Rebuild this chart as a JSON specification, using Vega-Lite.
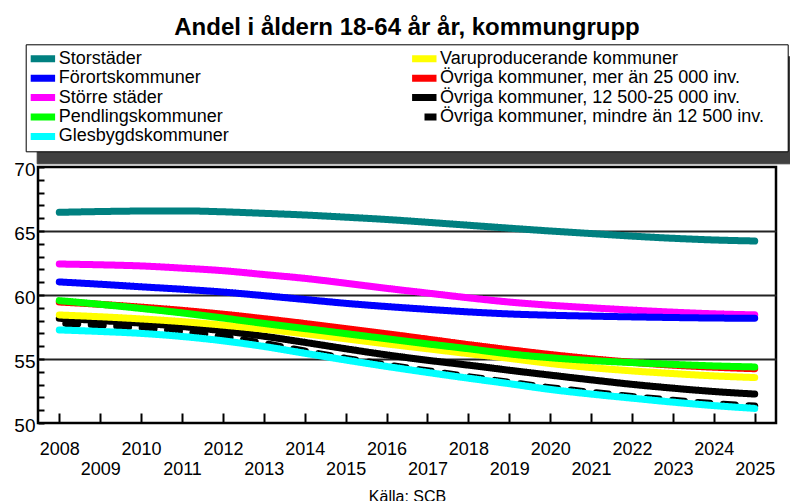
{
  "$schema": "https://vega.github.io/schema/vega-lite/v6.json",
  "width": 738,
  "height": 256,
  "autosize": {"type": "none"},
  "padding": {"left": 38, "top": 167, "right": 14, "bottom": 78},
  "background": "white",
  "config": {
    "font": "Liberation Sans",
    "view": {"stroke": "black", "strokeWidth": 2.5}
  },
  "title": {
    "text": "Andel i åldern 18-64 år år, kommungrupp",
    "fontSize": 24,
    "fontWeight": "bold",
    "anchor": "middle",
    "color": "black",
    "offset": 4
  },
  "datasets": {
    "shadow": [
      {"s": "Förortskommuner"}, {"s": "Storstäder"}, {"s": "Större städer"},
      {"s": "Pendlingskommuner"}, {"s": "Glesbygdskommuner"},
      {"s": "Övriga kommuner, mer än 25 000 inv."}, {"s": "Varuproducerande kommuner"},
      {"s": "Övriga kommuner, 12 500-25 000 inv."}, {"s": "Övriga kommuner, mindre än 12 500 inv."}
    ],
    "main": [
      {"group": "Övriga kommuner, mindre än 12 500 inv.", "year": 2008, "value": 57.8},
      {"group": "Övriga kommuner, mindre än 12 500 inv.", "year": 2009, "value": 57.65},
      {"group": "Övriga kommuner, mindre än 12 500 inv.", "year": 2010, "value": 57.45},
      {"group": "Övriga kommuner, mindre än 12 500 inv.", "year": 2011, "value": 57.15},
      {"group": "Övriga kommuner, mindre än 12 500 inv.", "year": 2012, "value": 56.75},
      {"group": "Övriga kommuner, mindre än 12 500 inv.", "year": 2013, "value": 56.22},
      {"group": "Övriga kommuner, mindre än 12 500 inv.", "year": 2014, "value": 55.62},
      {"group": "Övriga kommuner, mindre än 12 500 inv.", "year": 2015, "value": 55.05},
      {"group": "Övriga kommuner, mindre än 12 500 inv.", "year": 2016, "value": 54.55},
      {"group": "Övriga kommuner, mindre än 12 500 inv.", "year": 2017, "value": 54.08},
      {"group": "Övriga kommuner, mindre än 12 500 inv.", "year": 2018, "value": 53.62},
      {"group": "Övriga kommuner, mindre än 12 500 inv.", "year": 2019, "value": 53.18},
      {"group": "Övriga kommuner, mindre än 12 500 inv.", "year": 2020, "value": 52.76},
      {"group": "Övriga kommuner, mindre än 12 500 inv.", "year": 2021, "value": 52.4},
      {"group": "Övriga kommuner, mindre än 12 500 inv.", "year": 2022, "value": 52.07},
      {"group": "Övriga kommuner, mindre än 12 500 inv.", "year": 2023, "value": 51.77},
      {"group": "Övriga kommuner, mindre än 12 500 inv.", "year": 2024, "value": 51.52},
      {"group": "Övriga kommuner, mindre än 12 500 inv.", "year": 2025, "value": 51.33},
      {"group": "Övriga kommuner, 12 500-25 000 inv.", "year": 2008, "value": 58.18},
      {"group": "Övriga kommuner, 12 500-25 000 inv.", "year": 2009, "value": 58.0},
      {"group": "Övriga kommuner, 12 500-25 000 inv.", "year": 2010, "value": 57.8},
      {"group": "Övriga kommuner, 12 500-25 000 inv.", "year": 2011, "value": 57.54},
      {"group": "Övriga kommuner, 12 500-25 000 inv.", "year": 2012, "value": 57.2},
      {"group": "Övriga kommuner, 12 500-25 000 inv.", "year": 2013, "value": 56.78},
      {"group": "Övriga kommuner, 12 500-25 000 inv.", "year": 2014, "value": 56.3},
      {"group": "Övriga kommuner, 12 500-25 000 inv.", "year": 2015, "value": 55.8},
      {"group": "Övriga kommuner, 12 500-25 000 inv.", "year": 2016, "value": 55.32},
      {"group": "Övriga kommuner, 12 500-25 000 inv.", "year": 2017, "value": 54.9},
      {"group": "Övriga kommuner, 12 500-25 000 inv.", "year": 2018, "value": 54.52},
      {"group": "Övriga kommuner, 12 500-25 000 inv.", "year": 2019, "value": 54.12},
      {"group": "Övriga kommuner, 12 500-25 000 inv.", "year": 2020, "value": 53.74},
      {"group": "Övriga kommuner, 12 500-25 000 inv.", "year": 2021, "value": 53.37},
      {"group": "Övriga kommuner, 12 500-25 000 inv.", "year": 2022, "value": 53.02},
      {"group": "Övriga kommuner, 12 500-25 000 inv.", "year": 2023, "value": 52.72},
      {"group": "Övriga kommuner, 12 500-25 000 inv.", "year": 2024, "value": 52.46},
      {"group": "Övriga kommuner, 12 500-25 000 inv.", "year": 2025, "value": 52.26},
      {"group": "Övriga kommuner, mer än 25 000 inv.", "year": 2008, "value": 59.45},
      {"group": "Övriga kommuner, mer än 25 000 inv.", "year": 2009, "value": 59.27},
      {"group": "Övriga kommuner, mer än 25 000 inv.", "year": 2010, "value": 59.05},
      {"group": "Övriga kommuner, mer än 25 000 inv.", "year": 2011, "value": 58.8},
      {"group": "Övriga kommuner, mer än 25 000 inv.", "year": 2012, "value": 58.5},
      {"group": "Övriga kommuner, mer än 25 000 inv.", "year": 2013, "value": 58.15},
      {"group": "Övriga kommuner, mer än 25 000 inv.", "year": 2014, "value": 57.77},
      {"group": "Övriga kommuner, mer än 25 000 inv.", "year": 2015, "value": 57.37},
      {"group": "Övriga kommuner, mer än 25 000 inv.", "year": 2016, "value": 56.97},
      {"group": "Övriga kommuner, mer än 25 000 inv.", "year": 2017, "value": 56.55},
      {"group": "Övriga kommuner, mer än 25 000 inv.", "year": 2018, "value": 56.12},
      {"group": "Övriga kommuner, mer än 25 000 inv.", "year": 2019, "value": 55.72},
      {"group": "Övriga kommuner, mer än 25 000 inv.", "year": 2020, "value": 55.35},
      {"group": "Övriga kommuner, mer än 25 000 inv.", "year": 2021, "value": 55.02},
      {"group": "Övriga kommuner, mer än 25 000 inv.", "year": 2022, "value": 54.74},
      {"group": "Övriga kommuner, mer än 25 000 inv.", "year": 2023, "value": 54.52},
      {"group": "Övriga kommuner, mer än 25 000 inv.", "year": 2024, "value": 54.36},
      {"group": "Övriga kommuner, mer än 25 000 inv.", "year": 2025, "value": 54.24},
      {"group": "Varuproducerande kommuner", "year": 2008, "value": 58.44},
      {"group": "Varuproducerande kommuner", "year": 2009, "value": 58.3},
      {"group": "Varuproducerande kommuner", "year": 2010, "value": 58.13},
      {"group": "Varuproducerande kommuner", "year": 2011, "value": 57.92},
      {"group": "Varuproducerande kommuner", "year": 2012, "value": 57.65},
      {"group": "Varuproducerande kommuner", "year": 2013, "value": 57.33},
      {"group": "Varuproducerande kommuner", "year": 2014, "value": 56.97},
      {"group": "Varuproducerande kommuner", "year": 2015, "value": 56.58},
      {"group": "Varuproducerande kommuner", "year": 2016, "value": 56.18},
      {"group": "Varuproducerande kommuner", "year": 2017, "value": 55.8},
      {"group": "Varuproducerande kommuner", "year": 2018, "value": 55.42},
      {"group": "Varuproducerande kommuner", "year": 2019, "value": 55.05},
      {"group": "Varuproducerande kommuner", "year": 2020, "value": 54.65},
      {"group": "Varuproducerande kommuner", "year": 2021, "value": 54.33},
      {"group": "Varuproducerande kommuner", "year": 2022, "value": 54.07},
      {"group": "Varuproducerande kommuner", "year": 2023, "value": 53.86},
      {"group": "Varuproducerande kommuner", "year": 2024, "value": 53.68},
      {"group": "Varuproducerande kommuner", "year": 2025, "value": 53.55},
      {"group": "Glesbygdskommuner", "year": 2008, "value": 57.27},
      {"group": "Glesbygdskommuner", "year": 2009, "value": 57.15},
      {"group": "Glesbygdskommuner", "year": 2010, "value": 57.0},
      {"group": "Glesbygdskommuner", "year": 2011, "value": 56.76},
      {"group": "Glesbygdskommuner", "year": 2012, "value": 56.42},
      {"group": "Glesbygdskommuner", "year": 2013, "value": 55.98},
      {"group": "Glesbygdskommuner", "year": 2014, "value": 55.45},
      {"group": "Glesbygdskommuner", "year": 2015, "value": 54.92},
      {"group": "Glesbygdskommuner", "year": 2016, "value": 54.42},
      {"group": "Glesbygdskommuner", "year": 2017, "value": 53.95},
      {"group": "Glesbygdskommuner", "year": 2018, "value": 53.5},
      {"group": "Glesbygdskommuner", "year": 2019, "value": 53.07},
      {"group": "Glesbygdskommuner", "year": 2020, "value": 52.62},
      {"group": "Glesbygdskommuner", "year": 2021, "value": 52.26},
      {"group": "Glesbygdskommuner", "year": 2022, "value": 51.94},
      {"group": "Glesbygdskommuner", "year": 2023, "value": 51.63},
      {"group": "Glesbygdskommuner", "year": 2024, "value": 51.36},
      {"group": "Glesbygdskommuner", "year": 2025, "value": 51.14},
      {"group": "Pendlingskommuner", "year": 2008, "value": 59.56},
      {"group": "Pendlingskommuner", "year": 2009, "value": 59.27},
      {"group": "Pendlingskommuner", "year": 2010, "value": 58.95},
      {"group": "Pendlingskommuner", "year": 2011, "value": 58.6},
      {"group": "Pendlingskommuner", "year": 2012, "value": 58.2},
      {"group": "Pendlingskommuner", "year": 2013, "value": 57.78},
      {"group": "Pendlingskommuner", "year": 2014, "value": 57.38},
      {"group": "Pendlingskommuner", "year": 2015, "value": 56.98},
      {"group": "Pendlingskommuner", "year": 2016, "value": 56.58},
      {"group": "Pendlingskommuner", "year": 2017, "value": 56.18},
      {"group": "Pendlingskommuner", "year": 2018, "value": 55.8},
      {"group": "Pendlingskommuner", "year": 2019, "value": 55.4},
      {"group": "Pendlingskommuner", "year": 2020, "value": 55.1},
      {"group": "Pendlingskommuner", "year": 2021, "value": 54.88},
      {"group": "Pendlingskommuner", "year": 2022, "value": 54.72},
      {"group": "Pendlingskommuner", "year": 2023, "value": 54.58},
      {"group": "Pendlingskommuner", "year": 2024, "value": 54.46},
      {"group": "Pendlingskommuner", "year": 2025, "value": 54.38},
      {"group": "Större städer", "year": 2008, "value": 62.42},
      {"group": "Större städer", "year": 2009, "value": 62.36},
      {"group": "Större städer", "year": 2010, "value": 62.27},
      {"group": "Större städer", "year": 2011, "value": 62.1},
      {"group": "Större städer", "year": 2012, "value": 61.9},
      {"group": "Större städer", "year": 2013, "value": 61.6},
      {"group": "Större städer", "year": 2014, "value": 61.3},
      {"group": "Större städer", "year": 2015, "value": 60.92},
      {"group": "Större städer", "year": 2016, "value": 60.52},
      {"group": "Större städer", "year": 2017, "value": 60.15},
      {"group": "Större städer", "year": 2018, "value": 59.78},
      {"group": "Större städer", "year": 2019, "value": 59.45},
      {"group": "Större städer", "year": 2020, "value": 59.2},
      {"group": "Större städer", "year": 2021, "value": 59.0},
      {"group": "Större städer", "year": 2022, "value": 58.82},
      {"group": "Större städer", "year": 2023, "value": 58.66},
      {"group": "Större städer", "year": 2024, "value": 58.53},
      {"group": "Större städer", "year": 2025, "value": 58.45},
      {"group": "Förortskommuner", "year": 2008, "value": 61.02},
      {"group": "Förortskommuner", "year": 2009, "value": 60.84},
      {"group": "Förortskommuner", "year": 2010, "value": 60.64},
      {"group": "Förortskommuner", "year": 2011, "value": 60.45},
      {"group": "Förortskommuner", "year": 2012, "value": 60.23},
      {"group": "Förortskommuner", "year": 2013, "value": 59.95},
      {"group": "Förortskommuner", "year": 2014, "value": 59.65},
      {"group": "Förortskommuner", "year": 2015, "value": 59.35},
      {"group": "Förortskommuner", "year": 2016, "value": 59.1},
      {"group": "Förortskommuner", "year": 2017, "value": 58.88},
      {"group": "Förortskommuner", "year": 2018, "value": 58.68},
      {"group": "Förortskommuner", "year": 2019, "value": 58.52},
      {"group": "Förortskommuner", "year": 2020, "value": 58.42},
      {"group": "Förortskommuner", "year": 2021, "value": 58.35},
      {"group": "Förortskommuner", "year": 2022, "value": 58.29},
      {"group": "Förortskommuner", "year": 2023, "value": 58.24},
      {"group": "Förortskommuner", "year": 2024, "value": 58.2},
      {"group": "Förortskommuner", "year": 2025, "value": 58.18},
      {"group": "Storstäder", "year": 2008, "value": 66.46},
      {"group": "Storstäder", "year": 2009, "value": 66.52},
      {"group": "Storstäder", "year": 2010, "value": 66.56},
      {"group": "Storstäder", "year": 2011, "value": 66.57},
      {"group": "Storstäder", "year": 2012, "value": 66.5},
      {"group": "Storstäder", "year": 2013, "value": 66.38},
      {"group": "Storstäder", "year": 2014, "value": 66.25},
      {"group": "Storstäder", "year": 2015, "value": 66.08},
      {"group": "Storstäder", "year": 2016, "value": 65.9},
      {"group": "Storstäder", "year": 2017, "value": 65.68},
      {"group": "Storstäder", "year": 2018, "value": 65.45},
      {"group": "Storstäder", "year": 2019, "value": 65.22},
      {"group": "Storstäder", "year": 2020, "value": 65.0},
      {"group": "Storstäder", "year": 2021, "value": 64.8},
      {"group": "Storstäder", "year": 2022, "value": 64.6},
      {"group": "Storstäder", "year": 2023, "value": 64.43},
      {"group": "Storstäder", "year": 2024, "value": 64.3},
      {"group": "Storstäder", "year": 2025, "value": 64.22}
    ]
  },
  "layer": [
    {
      "data": {"name": "shadow"},
      "mark": {"type": "point", "opacity": 0},
      "encoding": {
        "shape": {
          "field": "s",
          "type": "nominal",
          "scale": {
            "domain": ["Förortskommuner", "Storstäder", "Större städer", "Pendlingskommuner", "Glesbygdskommuner", "Övriga kommuner, mer än 25 000 inv.", "Varuproducerande kommuner", "Övriga kommuner, 12 500-25 000 inv.", "Övriga kommuner, mindre än 12 500 inv."],
            "range": ["M2.15,0H-2.15", "M2.15,0H-2.15", "M2.15,0H-2.15", "M2.15,0H-2.15", "M2.15,0H-2.15", "M2.15,0H-2.15", "M2.15,0H-2.15", "M2.15,0H-2.15", "M2.15,0H-2.15"]
          },
          "legend": {
            "orient": "none", "legendX": -1.3, "legendY": -110.7, "columns": 2, "columnPadding": 182.4,
            "rowPadding": 0.4, "clipHeight": 19, "title": null, "labelFontSize": 18, "labelColor": "#404040",
            "labelExpr": "datum.label + (indexof(datum.label, 'mindre') >= 0 ? '\u00a0\u00a0\u00a0\u2009\u200b' : '')",
            "symbolType": "M2.15,0H-2.15", "symbolSize": 144, "symbolStrokeWidth": 7, "symbolStrokeColor": "#404040", "symbolOffset": 2,
            "labelOffset": 7, "padding": 5, "fillColor": "#404040", "strokeColor": "#404040",
            "zindex": 0, "labelLimit": 400
          }
        }
      }
    },
    {
      "data": {"name": "main"},
      "mark": {"type": "line", "strokeWidth": 7, "strokeCap": "round", "strokeJoin": "round", "interpolate": "monotone", "strokeDashOffset": 19},
      "encoding": {
        "x": {
          "field": "year", "type": "quantitative",
          "scale": {"domain": [2007.48, 2025.52], "nice": false, "zero": false},
          "axis": {
            "values": [2008, 2009, 2010, 2011, 2012, 2013, 2014, 2015, 2016, 2017, 2018, 2019, 2020, 2021, 2022, 2023, 2024, 2025],
            "format": "d",
            "labelExpr": "datum.value % 2 === 1 ? ['', datum.label] : datum.label",
            "labelLineHeight": 20, "labelFontSize": 18, "labelColor": "black", "labelBaseline": "top",
            "tickSize": -10, "tickWidth": 2, "tickColor": "black", "domain": false, "grid": false,
            "labelPadding": 27, "labelOverlap": false, "labelFlush": false,
            "title": "Källa: SCB", "titleFontSize": 16, "titleFontWeight": "normal", "titleColor": "black", "titlePadding": 10
          }
        },
        "y": {
          "field": "value", "type": "quantitative",
          "scale": {"domain": [50, 70], "nice": false, "zero": false},
          "axis": {
            "values": [50, 51, 52, 53, 54, 55, 56, 57, 58, 59, 60, 61, 62, 63, 64, 65, 66, 67, 68, 69, 70],
            "labelExpr": "datum.value % 5 === 0 ? datum.label : ''",
            "labelFontSize": 19, "labelColor": "black", "labelPadding": 9, "labelOffset": 2.5,
            "labelOverlap": false, "labelFlush": false,
            "tickSize": -6, "tickWidth": 2, "tickColor": "black", "domain": false,
            "grid": true, "gridColor": "#222", "gridWidth": 2,
            "gridOpacity": {"condition": {"test": "datum.value % 5 === 0 && datum.value > 50 && datum.value < 70", "value": 1}, "value": 0},
            "title": null
          }
        },
        "color": {
          "field": "group", "type": "nominal",
          "scale": {
            "domain": ["Storstäder", "Förortskommuner", "Större städer", "Pendlingskommuner", "Glesbygdskommuner", "Varuproducerande kommuner", "Övriga kommuner, mer än 25 000 inv.", "Övriga kommuner, 12 500-25 000 inv.", "Övriga kommuner, mindre än 12 500 inv."],
            "range": ["#008080", "#0000FF", "#FF00FF", "#00FF00", "#00FFFF", "#FFFF00", "#FF0000", "#000000", "#000000"]
          },
          "legend": {
            "orient": "none", "legendX": -12.3, "legendY": -122.7, "columns": 2, "columnPadding": 182.4,
            "rowPadding": 0.4, "clipHeight": 19, "title": null, "labelFontSize": 18, "labelColor": "black",
            "labelExpr": "datum.label + (indexof(datum.label, 'mindre') >= 0 ? '\u00a0\u00a0\u00a0\u2009\u200b' : '')",
            "symbolType": "M2.15,0H-2.15", "symbolSize": 144, "symbolStrokeWidth": 7, "symbolOffset": 2,
            "labelOffset": 7, "padding": 5, "fillColor": "white", "strokeColor": "black",
            "zindex": 2, "labelLimit": 400
          }
        },
        "strokeDash": {
          "field": "group", "type": "nominal",
          "scale": {
            "domain": ["Storstäder", "Förortskommuner", "Större städer", "Pendlingskommuner", "Glesbygdskommuner", "Varuproducerande kommuner", "Övriga kommuner, mer än 25 000 inv.", "Övriga kommuner, 12 500-25 000 inv.", "Övriga kommuner, mindre än 12 500 inv."],
            "range": [[1, 0], [1, 0], [1, 0], [1, 0], [1, 0], [1, 0], [1, 0], [1, 0], [12, 13.5]]
          },
          "legend": {
            "orient": "none", "legendX": -12.3, "legendY": -122.7, "columns": 2, "columnPadding": 182.4,
            "rowPadding": 0.4, "clipHeight": 19, "title": null, "labelFontSize": 18, "labelColor": "black",
            "labelExpr": "datum.label + (indexof(datum.label, 'mindre') >= 0 ? '\u00a0\u00a0\u00a0\u2009\u200b' : '')",
            "symbolType": "M2.15,0H-2.15", "symbolSize": 144, "symbolStrokeWidth": 7, "symbolOffset": 2,
            "labelOffset": 7, "padding": 5, "fillColor": "white", "strokeColor": "black",
            "zindex": 2, "labelLimit": 400
          }
        }
      }
    }
  ]
}
